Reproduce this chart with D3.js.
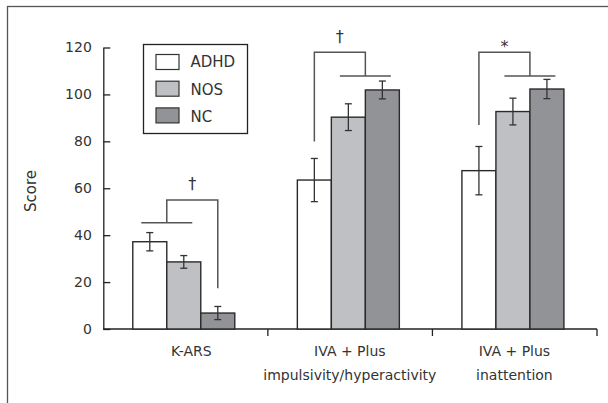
<!DOCTYPE html>
<html><head><meta charset="utf-8">
<script src="https://cdn.jsdelivr.net/npm/d3@7/dist/d3.min.js"></script>
<style>body{margin:0;background:#fff}svg{display:block}text{font-family:"DejaVu Sans",sans-serif;fill:#333}</style>
</head><body><svg id="c" width="608" height="403"></svg>
<script>
const categories = [["K-ARS"], ["IVA + Plus", "impulsivity/hyperactivity"], ["IVA + Plus", "inattention"]];
const groups = ["ADHD", "NOS", "NC"];
const adhdMean = [37.2, 63.5, 67.5];
const adhdErr  = [3.9, 9.2, 10.3];
const nosMean  = [28.6, 90.3, 92.7];
const nosErr   = [2.7, 5.7, 5.7];
const ncMean   = [6.8, 101.9, 102.3];
const ncErr    = [2.8, 3.8, 4.1];
const yTicks = [0, 20, 40, 60, 80, 100, 120];
const sigSymbols = ["\u2020", "\u2020", "*"];
const sigSingle = [2, 0, 0];           // bar compared against the pair
const sigTop = [55, 118, 118];         // bracket top level (score units)
const sigPair = [45.3, 107.9, 107.9];  // level of line over the pair
const sigSingleEnd = [17.4, 79.9, 87]; // lower end of the line over the single bar
const colors = ["#ffffff", "#bfc0c3", "#929396"];

const means = [adhdMean, nosMean, ncMean];
const errs = [adhdErr, nosErr, ncErr];

const svg = d3.select("#c");
svg.append("rect").attr("x", 7.5).attr("y", 6.5).attr("width", 700).attr("height", 500)
  .attr("fill", "none").attr("stroke", "#555").attr("stroke-width", 1.3);

const y = d3.scaleLinear().domain([0, 120]).range([329, 47.5]);
const x0 = d3.scaleBand().domain(d3.range(categories.length)).range([103.3, 597]).padding(0);
const barW = 34;
const x1 = d3.scaleBand().domain(d3.range(groups.length)).range([-1.5 * barW, 1.5 * barW]).padding(0);
const cx = i => x0(i) + x0.bandwidth() / 2 - 1.8;

// y axis
const yAxis = d3.axisLeft(y).tickValues(yTicks).tickSize(-7).tickSizeOuter(0).tickPadding(11.5);
const ya = svg.append("g").attr("transform", "translate(103.3,0)").call(yAxis);
ya.select(".domain").attr("stroke", "#222").attr("stroke-width", 1.3);
ya.selectAll(".tick line").attr("stroke", "#222").attr("stroke-width", 1.3);
ya.selectAll(".tick text").style("font-size", "14px").style("font-family", "DejaVu Sans").attr("fill", "#333");

// x axis line and ticks at band ends
svg.append("line").attr("x1", 103.3).attr("x2", 597).attr("y1", y(0)).attr("y2", y(0))
  .attr("stroke", "#222").attr("stroke-width", 1.3);
svg.selectAll("line.xt").data(d3.range(categories.length)).join("line").attr("class", "xt")
  .attr("x1", i => x0(i) + x0.bandwidth()).attr("x2", i => x0(i) + x0.bandwidth())
  .attr("y1", y(0)).attr("y2", y(0) + 7).attr("stroke", "#222").attr("stroke-width", 1.3);

// category labels
const labOff = [6, 0, 0];
categories.forEach((lines, i) => {
  const t = svg.append("text").attr("text-anchor", "middle").style("font-size", "14px");
  lines.forEach((l, k) => t.append("tspan").attr("x", cx(i) + 1.5 + labOff[i]).attr("y", 355.5 + k * 24).text(l));
});

// y label
svg.append("text").attr("transform", "translate(36,191) rotate(-90)").attr("text-anchor", "middle")
  .style("font-size", "15px").text("Score");

// bars
const data = [];
categories.forEach((c, i) => groups.forEach((g, j) => data.push({i, j, v: means[j][i], e: errs[j][i]})));
const bx = d => cx(d.i) + x1(d.j);
svg.selectAll("rect.bar").data(data).join("rect").attr("class", "bar")
  .attr("x", bx).attr("width", x1.bandwidth())
  .attr("y", d => y(d.v)).attr("height", d => y(0) - y(d.v))
  .attr("fill", d => colors[d.j]).attr("stroke", "#2a2a2a").attr("stroke-width", 1.4);

// error bars
const eb = svg.append("g").attr("stroke", "#333").attr("stroke-width", 1.3);
data.forEach(d => {
  const m = bx(d) + x1.bandwidth() / 2;
  eb.append("line").attr("x1", m).attr("x2", m).attr("y1", y(d.v + d.e)).attr("y2", y(d.v - d.e));
  [d.v + d.e, d.v - d.e].forEach(v => eb.append("line").attr("x1", m - 3.5).attr("x2", m + 3.5).attr("y1", y(v)).attr("y2", y(v)));
});

// significance brackets
const sg = svg.append("g").attr("stroke", "#555").attr("stroke-width", 1.5).attr("fill", "none");
categories.forEach((c, i) => {
  const s = sigSingle[i];
  const pair = [0, 1, 2].filter(k => k !== s);
  const sMid = cx(i) + x1(s) + barW / 2;
  const pMid = cx(i) + x1(pair[0]) + barW;
  const pL = cx(i) + x1(pair[0]) + barW / 2 - barW / 4;
  const pR = cx(i) + x1(pair[1]) + barW / 2 + barW / 4;
  sg.append("line").attr("x1", pL).attr("x2", pR).attr("y1", y(sigPair[i])).attr("y2", y(sigPair[i]));
  sg.append("path").attr("d", d3.line()([
    [sMid, y(sigSingleEnd[i])], [sMid, y(sigTop[i])], [pMid, y(sigTop[i])], [pMid, y(sigPair[i])]
  ]));
  const isStar = sigSymbols[i] === "*";
  svg.append("text").attr("x", (sMid + pMid) / 2).attr("y", y(sigTop[i]) - (isStar ? 0 : 10.5))
    .attr("text-anchor", "middle").style("font-size", "16px").attr("fill", "#444").text(sigSymbols[i]);
});

// legend
const lg = svg.append("g");
lg.append("rect").attr("x", 143.5).attr("y", 44.5).attr("width", 104).attr("height", 89)
  .attr("fill", "#fff").attr("stroke", "#222").attr("stroke-width", 1.3);
groups.forEach((g, j) => {
  lg.append("rect").attr("x", 156).attr("y", 54.5 + j * 26.7).attr("width", 23).attr("height", 15)
    .attr("fill", colors[j]).attr("stroke", "#333").attr("stroke-width", 1.2);
  lg.append("text").attr("x", 190.5).attr("y", 67.3 + j * 27.3).style("font-size", "15px").text(g);
});
</script></body></html>
